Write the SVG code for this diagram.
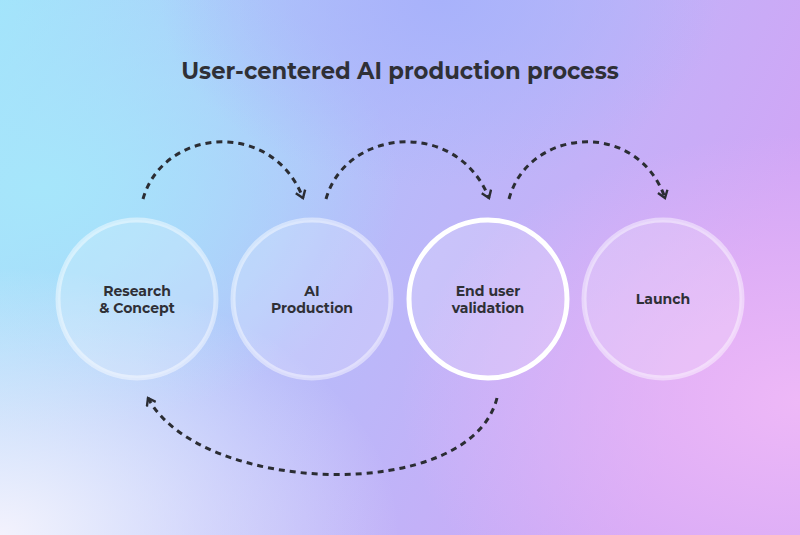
<svg xmlns="http://www.w3.org/2000/svg" width="800" height="535" viewBox="0 0 800 535">
<defs>
<linearGradient id="bg" x1="0" y1="0" x2="1" y2="0.3">
<stop offset="0" stop-color="#a2e4fb"/><stop offset="0.5" stop-color="#b6bcfa"/><stop offset="1" stop-color="#d0a6f6"/>
</linearGradient>
<radialGradient id="cy" cx="0.05" cy="0.35" r="0.45"><stop offset="0" stop-color="#a6e6fb"/><stop offset="1" stop-color="#a6e6fb" stop-opacity="0"/></radialGradient>
<radialGradient id="bl" cx="0" cy="1" r="0.5"><stop offset="0" stop-color="#f3f2fd"/><stop offset="1" stop-color="#f3f2fd" stop-opacity="0"/></radialGradient>
<radialGradient id="br" cx="1" cy="0.75" r="0.5"><stop offset="0" stop-color="#eeb8f7"/><stop offset="1" stop-color="#eeb8f7" stop-opacity="0"/></radialGradient>
<radialGradient id="tm" cx="0.55" cy="0" r="0.35"><stop offset="0" stop-color="#a8b2fb"/><stop offset="1" stop-color="#a8b2fb" stop-opacity="0"/></radialGradient>
<marker id="ah" viewBox="0 0 12 12" refX="8" refY="6" markerWidth="12" markerHeight="12" markerUnits="userSpaceOnUse" orient="auto">
<path d="M1,1 L8,6 L1,11" fill="none" stroke="#2b2d33" stroke-width="2.4"/>
</marker>
</defs>
<style>
.c{fill:#ffffff;fill-opacity:0.18;stroke:#ffffff;stroke-opacity:0.45;stroke-width:5}
.t{font-family:Montserrat,"Noto Sans","Liberation Sans",sans-serif;font-weight:700;font-size:14px;fill:#2f3036;text-anchor:middle}
.a{fill:none;stroke:#2b2d33;stroke-width:3;stroke-dasharray:6 5;marker-end:url(#ah)}
</style>
<rect width="800" height="535" fill="url(#bg)"/>
<rect width="800" height="535" fill="url(#cy)"/>
<rect width="800" height="535" fill="url(#tm)"/>
<rect width="800" height="535" fill="url(#br)"/>
<rect width="800" height="535" fill="url(#bl)"/>
<text x="400" y="79" class="t" style="font-size:22.7px">User-centered AI production process</text>
<g id="n1"><circle cx="137" cy="299" r="79" class="c"/><text x="137" y="296" class="t">Research</text><text x="137" y="313" class="t">&amp; Concept</text></g>
<g id="n2"><circle cx="312" cy="299" r="79" class="c"/><text x="312" y="296" class="t">AI</text><text x="312" y="313" class="t">Production</text></g>
<g id="n3"><circle cx="488" cy="299" r="79" class="c" style="stroke:#fff;stroke-opacity:1"/><text x="488" y="296" class="t">End user</text><text x="488" y="313" class="t">validation</text></g>
<g id="n4"><circle cx="663" cy="299" r="79" class="c"/><text x="663" y="304" class="t">Launch</text></g>
<g id="edges">
<path class="a" d="M143,199 C163,128 272,118 303,198"/>
<path class="a" d="M326,199 C346,128 457,118 489,198"/>
<path class="a" d="M509,199 C528,128 637,118 665,198"/>
<path class="a" d="M497,398 C470,505 200,495 148,398"/>
</g>
</svg>
